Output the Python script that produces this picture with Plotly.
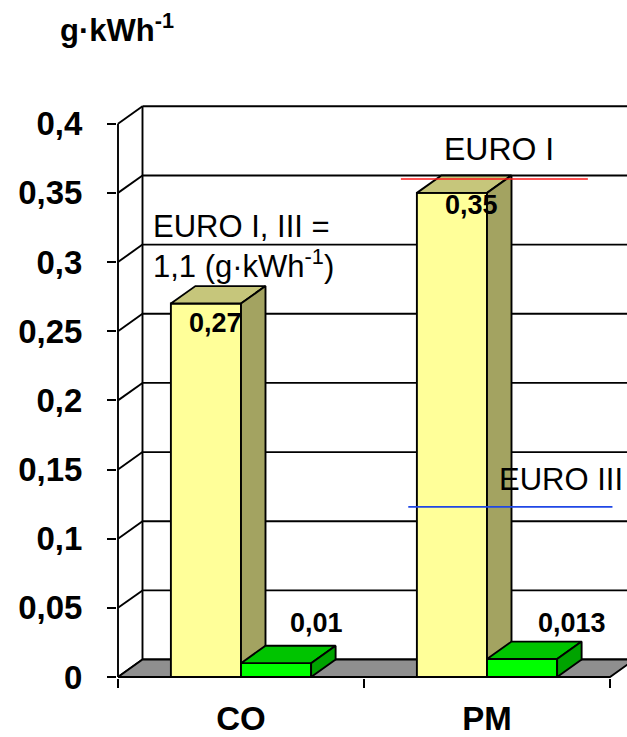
import plotly.graph_objects as go

# --- data -------------------------------------------------------------
categories = ["CO", "PM"]
base_values = [0.27, 0.35]          # yellow columns
treated_values = [0.01, 0.013]      # green columns
base_labels = ["0,27", "0,35"]
treated_labels = ["0,01", "0,013"]
tick_values = [0, 0.05, 0.1, 0.15, 0.2, 0.25, 0.3, 0.35, 0.4]
tick_labels = ["0", "0,05", "0,1", "0,15", "0,2", "0,25", "0,3", "0,35", "0,4"]
euro_i_pm = 0.36
euro_iii_pm = 0.123

# --- geometry of the pseudo-3D frame ----------------------------------
PX_X = 246.0          # pixels per category slot
PX_Y = 1388.0         # pixels per g/kWh
DX = 24.5 / PX_X      # depth offset (x units)
DY = 17.5 / PX_Y      # depth offset (y units)
BAR_W = 0.285

PLOT_W, PLOT_H = 510, 580
x0 = -0.5 - 1.0 / PX_X
x1 = x0 + PLOT_W / PX_X
y0 = -1.0 / PX_Y
y1 = y0 + PLOT_H / PX_Y

EDGE = dict(color="black", width=1.9)

fig = go.Figure()


def poly(xs, ys, fill):
    fig.add_trace(go.Scatter(
        x=list(xs) + [xs[0]], y=list(ys) + [ys[0]],
        mode="lines", fill="toself", fillcolor=fill,
        line=EDGE, hoverinfo="skip", showlegend=False))


def lines(segments, color="black", width=1.9):
    xs, ys = [], []
    for (xa, ya), (xb, yb) in segments:
        xs += [xa, xb, None]
        ys += [ya, yb, None]
    fig.add_trace(go.Scatter(x=xs, y=ys, mode="lines",
                             line=dict(color=color, width=width),
                             hoverinfo="skip", showlegend=False))


def column(xl, xr, h, front, top, side):
    poly([xl, xr, xr, xl], [0, 0, h, h], front)
    poly([xl, xr, xr + DX, xl + DX], [h, h, h + DY, h + DY], top)
    poly([xr, xr + DX, xr + DX, xr], [0, DY, h + DY, h], side)


left = -0.5
right = left + len(categories)
top_val = tick_values[-1]

# walls: back gridlines, side-wall diagonals, wall edges
segs = []
for v in tick_values:
    segs.append(((left + DX, v + DY), (right + DX, v + DY)))
    segs.append(((left, v), (left + DX, v + DY)))
segs.append(((left + DX, DY), (left + DX, top_val + DY)))
segs.append(((left, 0), (left, top_val)))
lines(segs)

# floor
poly([left, right, right + DX, left + DX], [0, 0, DY, DY], "#8f8f8f")

# columns
for i, cat in enumerate(categories):
    column(i - BAR_W, i, base_values[i], "#ffff99", "#c6c67b", "#a3a361")
    column(i, i + BAR_W, treated_values[i], "#00ff00", "#00c400", "#00a300")

# limit lines for PM
pm = categories.index("PM")
lines([((pm - 0.35, euro_i_pm), (pm + 0.41, euro_i_pm))], color="#ff1a1a", width=1.6)
lines([((pm - 0.32, euro_iii_pm), (pm + 0.51, euro_iii_pm))], color="#1f47e6", width=1.6)

FONT = "Liberation Sans, Arial, sans-serif"

# value labels
shifts_base = [(10, -19), (20, -12)]
shifts_treated = [(40, 40), (50, 36)]
for i in range(len(categories)):
    fig.add_annotation(x=i - BAR_W / 2, y=base_values[i], text="<b>%s</b>" % base_labels[i],
                       showarrow=False, xanchor="center", yanchor="middle",
                       xshift=shifts_base[i][0], yshift=shifts_base[i][1],
                       font=dict(family=FONT, size=27, color="black"))
    fig.add_annotation(x=i + BAR_W / 2, y=treated_values[i], text="<b>%s</b>" % treated_labels[i],
                       showarrow=False, xanchor="center", yanchor="middle",
                       xshift=shifts_treated[i][0], yshift=shifts_treated[i][1],
                       font=dict(family=FONT, size=27, color="black"))

# limit captions
fig.add_annotation(x=pm + 0.05, y=euro_i_pm, text="EURO I", showarrow=False,
                   xanchor="center", yanchor="middle", yshift=30,
                   font=dict(family=FONT, size=32, color="black"))
fig.add_annotation(x=pm + 0.30, y=euro_iii_pm, text="EURO III", showarrow=False,
                   xanchor="center", yanchor="middle", yshift=27,
                   font=dict(family=FONT, size=31, color="black"))
fig.add_annotation(x=left + 0.135, y=0.311, text="EURO I, III =<br>1,1 (g·kWh<sup>-1</sup>)",
                   showarrow=False, xanchor="left", yanchor="middle", align="left",
                   font=dict(family=FONT, size=31, color="black"))

# unit title
fig.add_annotation(xref="paper", yref="paper", x=-0.1157, y=1.124,
                   text="<b>g·kWh<sup>-1</sup></b>", showarrow=False,
                   xanchor="left", yanchor="middle",
                   font=dict(family=FONT, size=31, color="black"))

fig.update_layout(
    width=627, height=737,
    margin=dict(l=117, r=0, t=100, b=57),
    paper_bgcolor="white", plot_bgcolor="white",
    showlegend=False,
    xaxis=dict(range=[x0, x1], tickmode="array", tickvals=list(range(len(categories))),
               ticktext=["<b>%s</b>" % c for c in categories], ticks="",
               showgrid=False, zeroline=False, showline=False,
               ticklabelstandoff=18,
               tickfont=dict(family=FONT, size=33, color="black"),
               minor=dict(tickmode="array",
                          tickvals=[left + k for k in range(len(categories) + 1)],
                          ticks="outside", ticklen=9, tickcolor="black", tickwidth=1.5)),
    yaxis=dict(range=[y0, y1], tickmode="array", tickvals=tick_values,
               ticktext=["<b>%s</b>" % t for t in tick_labels],
               ticks="outside", ticklen=9, tickcolor="black", tickwidth=1.5,
               showgrid=False, zeroline=False, showline=False,
               ticklabelstandoff=18,
               tickfont=dict(family=FONT, size=33, color="black")),
)

fig.write_html("out.html")
